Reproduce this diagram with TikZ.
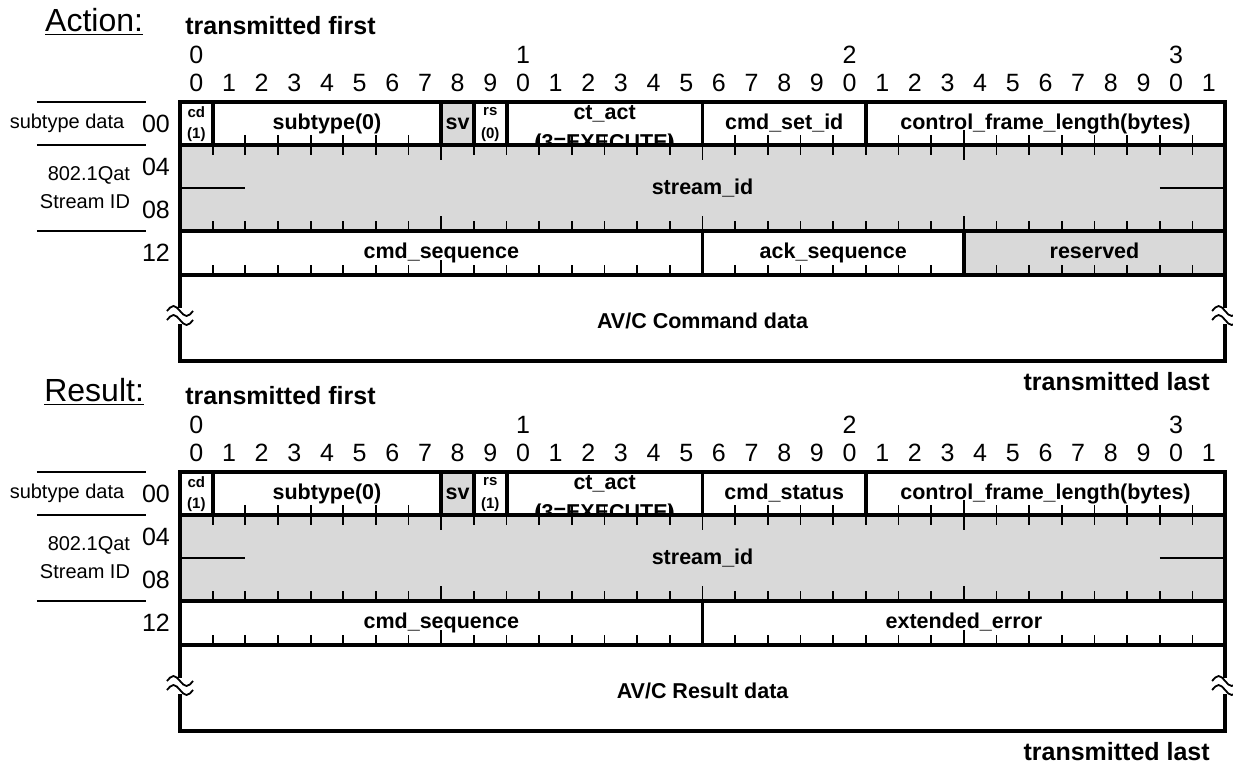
\documentclass[tikz,border=0pt]{standalone}
\usepackage{fontspec}
\setmainfont{Liberation Sans}
\usetikzlibrary{calc}

\definecolor{fieldgray}{HTML}{D9D9D9}

\tikzset{
  frameline/.style={line width=1.9pt},
  tickline/.style={line width=0.85pt},
  thinline/.style={line width=0.75pt},
  waveline/.style={line width=0.9pt},
  fieldlabel/.style={font=\fontsize{10.75}{12.5}\selectfont\bfseries, inner sep=0pt,
    text height=7.8pt, text depth=2.3pt},
  flaglabel/.style={font=\fontsize{7.5}{9}\selectfont\bfseries, inner sep=0pt},
  bitnum/.style={font=\fontsize{12.5}{15}\selectfont, inner sep=0pt},
  sidelabel/.style={font=\fontsize{10}{12}\selectfont, inner sep=0pt},
  offlabel/.style={font=\fontsize{12.5}{15}\selectfont, inner sep=0pt, anchor=east},
  firstlast/.style={font=\fontsize{12.5}{15}\selectfont\bfseries, inner sep=0pt},
  titlelabel/.style={font=\fontsize{16}{19}\selectfont, inner sep=0pt},
}

% ticks along a row edge: #1 = y, #2 = -1 up / 1 down
\newcommand{\bitticks}[2]{%
  \foreach \b in {1,...,31}{%
    \pgfmathsetmacro{\tl}{ifthenelse(mod(\b,8)==0,15,10)}%
    \draw[tickline] (\b,#1) -- ++(0,#2*\tl);
  }%
}

% broken edge of the data row
\newcommand{\breakmark}[1]{%
  \fill[white] (#1-0.3,206) rectangle (#1+0.3,222);
  \draw[waveline] (#1-0.4,209) sin (#1-0.2,204) cos (#1,209) sin (#1+0.2,214) cos (#1+0.4,209);
  \draw[waveline] (#1-0.4,218) sin (#1-0.2,213) cos (#1,218) sin (#1+0.2,223) cos (#1+0.4,218);
}

% title, bit numbers and labels left of the frame
\newcommand{\packethead}[2]{%
  \node[titlelabel] (#1-title) at (-2.63,-80) {\underline{#2}};
  \node[firstlast, anchor=west] (#1-first) at (0.15,-76) {transmitted first};
  \foreach \b/\t in {0/0,10/1,20/2,30/3}
    \node[bitnum] (#1-tens\b) at (\b+0.5,-47) {\t};
  \foreach \b [evaluate=\b as \d using {int(mod(\b,10))}] in {0,...,31}
    \node[bitnum] (#1-bit\b) at (\b+0.5,-19) {\d};
  \draw[thinline] (-4.38,0) -- (-1.04,0);
  \draw[thinline] (-4.38,43) -- (-1.04,43);
  \draw[thinline] (-4.38,129) -- (-1.04,129);
  \node[sidelabel] (#1-subdata) at (-3.46,21.5) {subtype data};
  \node[sidelabel] (#1-qat) at (-2.79,73) {802.1Qat};
  \node[sidelabel] (#1-streamlbl) at (-2.91,100) {Stream ID};
  \node[offlabel] (#1-off00) at (-0.3,21.5) {00};
  \node[offlabel] (#1-off04) at (-0.3,65) {04};
  \node[offlabel] (#1-off08) at (-0.3,108) {08};
  \node[offlabel] (#1-off12) at (-0.3,151) {12};
}

% first quadlet and stream_id
\newcommand{\rowzero}[3]{%
  \fill[fieldgray] (8,0) rectangle (9,43);
  \node[flaglabel] (#1-cd) at (0.5,10) {cd};
  \node[flaglabel] (#1-cdval) at (0.5,33) {(1)};
  \node[fieldlabel] (#1-subtype) at (4.5,21.5) {subtype(0)};
  \node[fieldlabel] (#1-sv) at (8.5,21.5) {sv};
  \node[flaglabel] (#1-rs) at (9.5,10) {rs};
  \node[flaglabel] (#1-rsval) at (9.5,33) {(#2)};
  \node[fieldlabel] (#1-ctact) at (13,12) {ct\_act};
  \node[fieldlabel] (#1-ctval) at (13,42) {(3=EXECUTE)};
  \node[fieldlabel] (#1-cmd) at (18.5,21.5) {#3};
  \node[fieldlabel] (#1-cfl) at (26.5,21.5) {control\_frame\_length(bytes)};
  \fill[fieldgray] (0,43) rectangle (32,129);
  \node[fieldlabel] (#1-stream) at (16,87) {stream\_id};
}

% frame, separators and ticks
\newcommand{\packetlines}[1]{%
  \bitticks{43}{-1}
  \bitticks{43}{1}
  \bitticks{129}{-1}
  \bitticks{173}{-1}
  \draw[thinline] (0,86) -- (2,86);
  \draw[thinline] (30,86) -- (32,86);
  \draw[frameline] (0,0) rectangle (32,259);
  \draw[frameline] (0,43) -- (32,43) (0,129) -- (32,129) (0,173) -- (32,173);
  \foreach \b in {1,8,9,10,16,21}
    \draw[frameline] (\b,0) -- (\b,43);
  \breakmark{0}
  \breakmark{32}
  \node[firstlast, anchor=east] (#1-last) at (31.54,280) {transmitted last};
}

\begin{document}
\begin{tikzpicture}[x=16.33pt, y=-0.5pt]
    \useasboundingbox (-5.512,0) rectangle (32.241,766);

    % Action frame
    \begin{scope}[yshift=-51pt]
        \packethead{act}{Action:}
        \rowzero{act}{0}{cmd\_set\_id}
        \fill[fieldgray] (24,129) rectangle (32,173);
        \node[fieldlabel] (act-cmdseq) at (8,151) {cmd\_sequence};
        \node[fieldlabel] (act-ackseq) at (20,151) {ack\_sequence};
        \node[fieldlabel] (act-resv) at (28,151) {reserved};
        \node[fieldlabel] (act-data) at (16,221) {AV/C Command data};
        \packetlines{act}
        \draw[frameline] (16,129) -- (16,173) (24,129) -- (24,173);
    \end{scope}

    % Result frame
    \begin{scope}[yshift=-236pt]
        \packethead{res}{Result:}
        \rowzero{res}{1}{cmd\_status}
        \node[fieldlabel] (res-cmdseq) at (8,151) {cmd\_sequence};
        \node[fieldlabel] (res-exterr) at (24,151) {extended\_error};
        \node[fieldlabel] (res-data) at (16,221) {AV/C Result data};
        \packetlines{res}
        \draw[frameline] (16,129) -- (16,173);
    \end{scope}

\end{tikzpicture}
\end{document}
